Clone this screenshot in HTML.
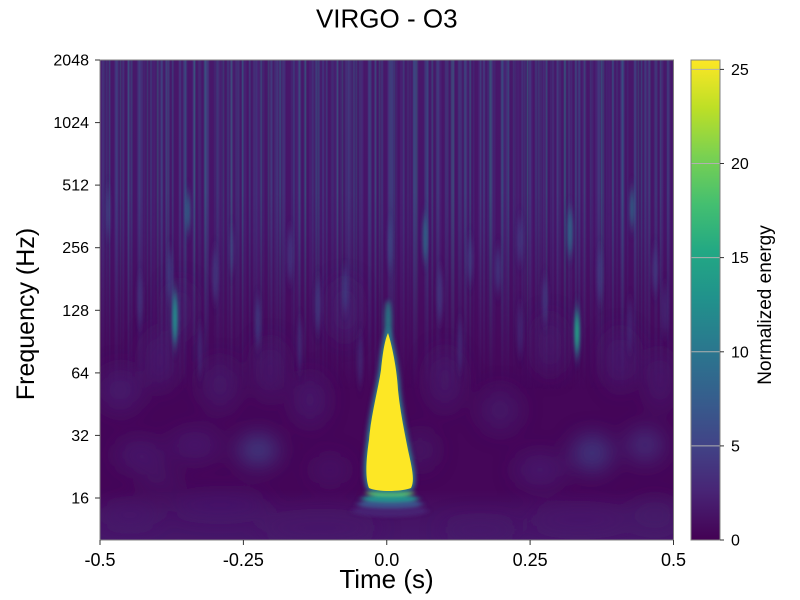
<!DOCTYPE html>
<html><head><meta charset="utf-8">
<style>
html,body{margin:0;padding:0;background:#fff;}
body{width:800px;height:600px;overflow:hidden;}
svg{display:block;}
</style></head><body>
<svg width="800" height="600" viewBox="0 0 800 600" xmlns="http://www.w3.org/2000/svg" font-family="'Liberation Sans', Arial, sans-serif">
<defs>
<clipPath id="clip"><rect x="0" y="0" width="574" height="480"/></clipPath>
<linearGradient id="cbar" x1="0" y1="1" x2="0" y2="0">
<stop offset="0" stop-color="#440154"/>
<stop offset="0.1" stop-color="#482475"/>
<stop offset="0.2" stop-color="#414487"/>
<stop offset="0.3" stop-color="#355f8d"/>
<stop offset="0.4" stop-color="#2a788e"/>
<stop offset="0.5" stop-color="#21918c"/>
<stop offset="0.6" stop-color="#22a884"/>
<stop offset="0.7" stop-color="#44bf70"/>
<stop offset="0.8" stop-color="#7ad151"/>
<stop offset="0.9" stop-color="#bddf26"/>
<stop offset="1" stop-color="#fde725"/>
</linearGradient>
<linearGradient id="haze" x1="0" y1="0" x2="0" y2="1">
<stop offset="0" stop-color="#48186a" stop-opacity="1"/>
<stop offset="0.35" stop-color="#47146a" stop-opacity="0.9"/>
<stop offset="0.7" stop-color="#460f62" stop-opacity="0"/>
</linearGradient>
<linearGradient id="bot" x1="0" y1="0" x2="0" y2="1">
<stop offset="0" stop-color="#471a6c" stop-opacity="0"/>
<stop offset="0.5" stop-color="#471a6c" stop-opacity="0.6"/>
<stop offset="1" stop-color="#471c6e" stop-opacity="0.8"/>
</linearGradient>
<pattern id="p1" patternUnits="userSpaceOnUse" width="7" height="480"><rect x="2" y="0" width="1.2" height="480" fill="#3e4a89" opacity="0.35"/></pattern>
<pattern id="p2" patternUnits="userSpaceOnUse" width="11" height="480"><rect x="6" y="0" width="1.5" height="480" fill="#31688e" opacity="0.35"/></pattern>
<pattern id="p3" patternUnits="userSpaceOnUse" width="13" height="480"><rect x="1" y="0" width="2.5" height="480" fill="#482878" opacity="0.6"/></pattern>
<pattern id="p4" patternUnits="userSpaceOnUse" width="19" height="480"><rect x="9" y="0" width="1" height="480" fill="#26828e" opacity="0.45"/><rect x="3" y="0" width="2" height="480" fill="#3b528b" opacity="0.3"/></pattern>
<pattern id="p5" patternUnits="userSpaceOnUse" width="23" height="480"><rect x="15" y="0" width="2" height="480" fill="#3b528b" opacity="0.4"/></pattern>
<pattern id="p6" patternUnits="userSpaceOnUse" width="37" height="480"><rect x="20" y="0" width="1" height="480" fill="#1f9e89" opacity="0.4"/><rect x="31" y="0" width="1.5" height="480" fill="#2a788e" opacity="0.35"/></pattern>
<linearGradient id="fade" x1="0" y1="0" x2="0" y2="1">
<stop offset="0" stop-color="#fff"/>
<stop offset="0.4" stop-color="#fff"/>
<stop offset="0.7" stop-color="#777"/>
<stop offset="1" stop-color="#000"/>
</linearGradient>
<mask id="m" maskUnits="userSpaceOnUse" x="0" y="0" width="574" height="330"><rect x="0" y="0" width="574" height="330" fill="url(#fade)"/></mask>
<filter id="sb" x="-5%" y="-5%" width="110%" height="110%"><feGaussianBlur stdDeviation="0.5 0"/></filter>
<filter id="bv" x="-100%" y="-50%" width="300%" height="200%"><feGaussianBlur stdDeviation="1.6 7"/></filter>
<filter id="b2" x="-50%" y="-50%" width="200%" height="200%"><feGaussianBlur stdDeviation="2.5"/></filter>
<filter id="b3" x="-50%" y="-50%" width="200%" height="200%"><feGaussianBlur stdDeviation="2.5"/></filter>
<filter id="b10" filterUnits="userSpaceOnUse" x="-50" y="-50" width="680" height="580"><feGaussianBlur stdDeviation="11"/></filter>
<filter id="bh" x="-50%" y="-100%" width="200%" height="300%"><feGaussianBlur stdDeviation="3 1.5"/></filter>
</defs>

<!-- Title -->
<text x="386.75" y="27.5" font-size="26" text-anchor="middle" fill="#000">VIRGO - O3</text>

<!-- Plot area -->
<g transform="translate(100,60)">
<g clip-path="url(#clip)">
<rect x="0" y="0" width="574" height="480" fill="#450659"/>
<rect x="0" y="0" width="574" height="480" fill="url(#haze)"/>
<rect x="0" y="430" width="574" height="50" fill="url(#bot)"/>
<g mask="url(#m)" filter="url(#sb)">
<rect x="0" y="0" width="574" height="330" fill="url(#p3)"/>
<rect x="0" y="0" width="574" height="330" fill="url(#p1)"/>
<rect x="0" y="0" width="574" height="330" fill="url(#p2)"/>
<rect x="0" y="0" width="574" height="330" fill="url(#p5)"/>
<rect x="0" y="0" width="574" height="330" fill="url(#p4)"/>
<rect x="0" y="0" width="574" height="330" fill="url(#p6)"/>
</g>

<!-- lower mottled blobs -->
<g filter="url(#b10)">
<ellipse cx="20" cy="330" rx="22" ry="22" fill="#472c7a" opacity="0.55"/>
<ellipse cx="60" cy="300" rx="15" ry="30" fill="#472c7a" opacity="0.5"/>
<ellipse cx="40" cy="395" rx="25" ry="15" fill="#472c7a" opacity="0.5"/>
<ellipse cx="95" cy="385" rx="25" ry="14" fill="#472c7a" opacity="0.55"/>
<ellipse cx="158" cy="390" rx="20" ry="15" fill="#3e4a89" opacity="0.8"/>
<ellipse cx="120" cy="325" rx="18" ry="25" fill="#472c7a" opacity="0.45"/>
<ellipse cx="170" cy="310" rx="14" ry="30" fill="#472c7a" opacity="0.45"/>
<ellipse cx="210" cy="340" rx="16" ry="25" fill="#472c7a" opacity="0.5"/>
<ellipse cx="245" cy="250" rx="12" ry="30" fill="#472c7a" opacity="0.5"/>
<ellipse cx="120" cy="445" rx="50" ry="12" fill="#46226f" opacity="0.6"/>
<ellipse cx="30" cy="455" rx="30" ry="12" fill="#46226f" opacity="0.5"/>
<ellipse cx="220" cy="468" rx="60" ry="12" fill="#471c6c" opacity="0.6"/>
<ellipse cx="492" cy="393" rx="20" ry="18" fill="#3f4788" opacity="0.75"/>
<ellipse cx="545" cy="385" rx="18" ry="16" fill="#433e85" opacity="0.7"/>
<ellipse cx="440" cy="410" rx="25" ry="16" fill="#472c7a" opacity="0.55"/>
<ellipse cx="345" cy="320" rx="16" ry="30" fill="#472c7a" opacity="0.45"/>
<ellipse cx="400" cy="350" rx="20" ry="22" fill="#472c7a" opacity="0.4"/>
<ellipse cx="520" cy="300" rx="14" ry="30" fill="#472c7a" opacity="0.5"/>
<ellipse cx="560" cy="320" rx="12" ry="30" fill="#472c7a" opacity="0.5"/>
<ellipse cx="450" cy="285" rx="12" ry="30" fill="#472c7a" opacity="0.45"/>
<ellipse cx="480" cy="460" rx="50" ry="12" fill="#471e6e" opacity="0.6"/>
<ellipse cx="380" cy="470" rx="40" ry="10" fill="#471e6e" opacity="0.5"/>
<ellipse cx="555" cy="455" rx="25" ry="14" fill="#46246f" opacity="0.55"/>
<ellipse cx="320" cy="390" rx="15" ry="18" fill="#46246f" opacity="0.55"/>
<ellipse cx="80" cy="250" rx="12" ry="28" fill="#472c7a" opacity="0.45"/>
<ellipse cx="230" cy="410" rx="18" ry="14" fill="#46246f" opacity="0.5"/>
<ellipse cx="60" cy="420" rx="20" ry="12" fill="#46246f" opacity="0.45"/>
</g>

<!-- medium streaks -->
<g filter="url(#bv)">
<ellipse cx="8" cy="152" rx="2" ry="24" fill="#3b528b" opacity="0.6"/>
<ellipse cx="70" cy="215" rx="3" ry="26" fill="#3e4a89" opacity="0.6"/>
<ellipse cx="75" cy="258" rx="3.5" ry="30" fill="#2a788e" opacity="0.7"/>
<ellipse cx="75" cy="258" rx="1.8" ry="20" fill="#21918c"/>
<ellipse cx="88" cy="152" rx="2.5" ry="20" fill="#2a788e" opacity="0.7"/>
<ellipse cx="115" cy="215" rx="3" ry="26" fill="#414487" opacity="0.6"/>
<ellipse cx="158" cy="262" rx="3" ry="24" fill="#3e4a89" opacity="0.6"/>
<ellipse cx="190" cy="195" rx="3" ry="26" fill="#414487" opacity="0.6"/>
<ellipse cx="218" cy="245" rx="3" ry="26" fill="#414487" opacity="0.6"/>
<ellipse cx="245" cy="230" rx="3" ry="22" fill="#3e4a89" opacity="0.6"/>
<ellipse cx="325" cy="178" rx="2.5" ry="24" fill="#2a788e" opacity="0.7"/>
<ellipse cx="340" cy="235" rx="3" ry="26" fill="#414487" opacity="0.6"/>
<ellipse cx="370" cy="200" rx="3" ry="22" fill="#414487" opacity="0.6"/>
<ellipse cx="398" cy="210" rx="3" ry="22" fill="#3e4a89" opacity="0.6"/>
<ellipse cx="420" cy="180" rx="3" ry="22" fill="#414487" opacity="0.6"/>
<ellipse cx="445" cy="240" rx="3" ry="22" fill="#414487" opacity="0.6"/>
<ellipse cx="470" cy="172" rx="3" ry="24" fill="#2a788e" opacity="0.7"/>
<ellipse cx="477" cy="272" rx="3.5" ry="26" fill="#2a788e" opacity="0.75"/>
<ellipse cx="477" cy="272" rx="1.8" ry="16" fill="#22a884"/>
<ellipse cx="500" cy="215" rx="3" ry="26" fill="#414487" opacity="0.6"/>
<ellipse cx="532" cy="148" rx="2.5" ry="20" fill="#2a788e" opacity="0.7"/>
<ellipse cx="555" cy="210" rx="3" ry="22" fill="#414487" opacity="0.6"/>
<ellipse cx="132" cy="190" rx="2" ry="22" fill="#3b528b" opacity="0.55"/>
<ellipse cx="290" cy="185" rx="2.5" ry="24" fill="#3b528b" opacity="0.55"/>
<ellipse cx="40" cy="240" rx="3" ry="25" fill="#414487" opacity="0.45"/>
<ellipse cx="100" cy="290" rx="3" ry="25" fill="#414487" opacity="0.4"/>
<ellipse cx="200" cy="285" rx="3" ry="25" fill="#414487" opacity="0.4"/>
<ellipse cx="260" cy="300" rx="3" ry="25" fill="#414487" opacity="0.4"/>
<ellipse cx="360" cy="285" rx="3" ry="25" fill="#414487" opacity="0.4"/>
<ellipse cx="420" cy="270" rx="3" ry="25" fill="#414487" opacity="0.4"/>
<ellipse cx="530" cy="265" rx="3" ry="25" fill="#414487" opacity="0.4"/>
<ellipse cx="565" cy="250" rx="3" ry="25" fill="#414487" opacity="0.4"/>
</g>

<!-- central event -->
<g filter="url(#bh)">
<ellipse cx="290" cy="451" rx="38" ry="6" fill="#482475" opacity="0.8"/>
<ellipse cx="290" cy="444" rx="33" ry="4" fill="#3b528b"/>
<ellipse cx="290" cy="438.5" rx="29" ry="3.5" fill="#21918c"/>
<ellipse cx="290" cy="433" rx="24" ry="3" fill="#5ec962"/>
</g>
<ellipse cx="288" cy="262" rx="3.5" ry="22" fill="#21918c" opacity="0.8" filter="url(#b2)"/>
<path d="M 288 273 C 292 285, 297 310, 298 330 C 300 350, 304 370, 308 390 C 312 408, 315 420, 311 428 C 300 432, 278 432, 269 428 C 265 418, 266 400, 269 380 C 271 355, 278 330, 281 310 C 283 290, 285 280, 288 273 Z" fill="#22a884" stroke="#2a788e" stroke-width="5" filter="url(#b3)"/>
<path d="M 288 273 C 292 285, 297 310, 298 330 C 300 350, 304 370, 308 390 C 312 408, 315 420, 311 428 C 300 432, 278 432, 269 428 C 265 418, 266 400, 269 380 C 271 355, 278 330, 281 310 C 283 290, 285 280, 288 273 Z" fill="#fde725"/>
</g>
<rect x="0" y="0" width="573.5" height="480" fill="none" stroke="#808080" stroke-width="1"/>
</g>

<!-- ticks -->
<g stroke="#333" stroke-width="1">
<line x1="95" y1="60" x2="100" y2="60"/>
<line x1="95" y1="122.6" x2="100" y2="122.6"/>
<line x1="95" y1="185.1" x2="100" y2="185.1"/>
<line x1="95" y1="247.7" x2="100" y2="247.7"/>
<line x1="95" y1="310.3" x2="100" y2="310.3"/>
<line x1="95" y1="372.9" x2="100" y2="372.9"/>
<line x1="95" y1="435.4" x2="100" y2="435.4"/>
<line x1="95" y1="498" x2="100" y2="498"/>
<line x1="100" y1="540" x2="100" y2="545"/>
<line x1="243.4" y1="540" x2="243.4" y2="545"/>
<line x1="386.75" y1="540" x2="386.75" y2="545"/>
<line x1="530.1" y1="540" x2="530.1" y2="545"/>
<line x1="673.5" y1="540" x2="673.5" y2="545"/>
</g>
<g font-size="16" text-anchor="end" fill="#000">
<text x="89" y="65.5">2048</text>
<text x="89" y="128.1">1024</text>
<text x="89" y="190.6">512</text>
<text x="89" y="253.2">256</text>
<text x="89" y="315.8">128</text>
<text x="89" y="378.4">64</text>
<text x="89" y="440.9">32</text>
<text x="89" y="503.5">16</text>
</g>
<g font-size="18" text-anchor="middle" fill="#000">
<text x="100" y="566">-0.5</text>
<text x="243.4" y="566">-0.25</text>
<text x="386.75" y="566">0.0</text>
<text x="530.1" y="566">0.25</text>
<text x="673.5" y="566">0.5</text>
</g>
<text x="386.5" y="588" font-size="26" text-anchor="middle" fill="#000">Time (s)</text>
<text x="34" y="314" font-size="25" text-anchor="middle" fill="#000" transform="rotate(-90 34 314)">Frequency (Hz)</text>

<!-- Colorbar -->
<rect x="691" y="60" width="29" height="480" fill="url(#cbar)"/>
<g stroke="#b0b0b0" stroke-width="1">
<line x1="691" y1="69.4" x2="720" y2="69.4"/>
<line x1="691" y1="163.5" x2="720" y2="163.5"/>
<line x1="691" y1="257.6" x2="720" y2="257.6"/>
<line x1="691" y1="351.8" x2="720" y2="351.8"/>
<line x1="691" y1="445.9" x2="720" y2="445.9"/>
</g>
<rect x="691" y="60" width="29" height="480" fill="none" stroke="#808080" stroke-width="1"/>
<g stroke="#333" stroke-width="1">
<line x1="720" y1="69.4" x2="724" y2="69.4"/>
<line x1="720" y1="163.5" x2="724" y2="163.5"/>
<line x1="720" y1="257.6" x2="724" y2="257.6"/>
<line x1="720" y1="351.8" x2="724" y2="351.8"/>
<line x1="720" y1="445.9" x2="724" y2="445.9"/>
<line x1="720" y1="540" x2="724" y2="540"/>
</g>
<g font-size="16" fill="#000">
<text x="731" y="75">25</text>
<text x="731" y="169">20</text>
<text x="731" y="263">15</text>
<text x="731" y="357.3">10</text>
<text x="731" y="451.4">5</text>
<text x="731" y="545.5">0</text>
</g>
<text x="771" y="305" font-size="19" text-anchor="middle" fill="#000" transform="rotate(-90 771 305)">Normalized energy</text>
</svg>
</body></html>
